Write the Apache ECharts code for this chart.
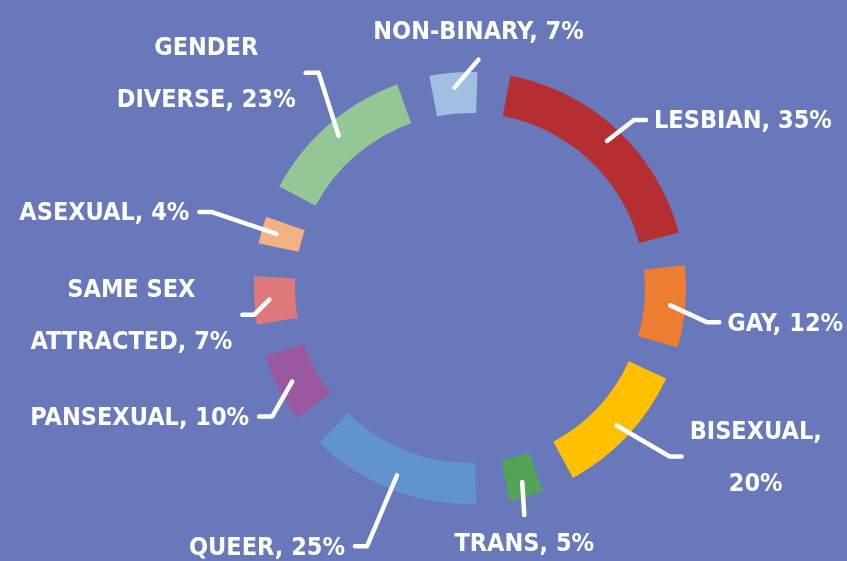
<!DOCTYPE html>
<html>
<head>
<meta charset="utf-8">
<script src="https://cdn.jsdelivr.net/npm/echarts@6/dist/echarts.min.js"></script>
<style>
  html, body { margin: 0; padding: 0; background: #6878ba; }
  #chart { width: 847px; height: 561px; }
</style>
</head>
<body>
<div id="chart"></div>
<script>
const categories = ['Lesbian', 'Gay', 'Bisexual', 'Trans', 'Queer', 'Pansexual',
  'Same sex attracted', 'Asexual', 'Gender diverse', 'Non-binary'];
const percents = [35, 12, 20, 5, 25, 10, 7, 4, 23, 7];
const colors = ['#b52e31', '#ed7d31', '#ffc000', '#52a456', '#6194cd', '#9957a0',
  '#e07a7a', '#f4b183', '#93c796', '#a2bee2'];

// leader lines: elbow offset from the start point, horizontal tail, wrap after n words
const leaders = [
  { dx: 27, dy: -21, h: 12 },
  { dx: 37, dy: 17, h: 12 },
  { dx: 53, dy: 31, h: 12, wrap: 1 },
  { dx: 2, dy: 33, h: 0 },
  { dx: -30, dy: 71, h: -12 },
  { dx: -20, dy: 35, h: -13 },
  { dx: -15, dy: 15, h: -12, wrap: 2 },
  { dx: -65, dy: -22, h: -12 },
  { dx: -20, dy: -63, h: -13, wrap: 1 },
  { dx: 24, dy: -28, h: 0 }
];

const GAP = 8.8;
const total = percents.reduce((a, b) => a + b, 0);
const degPerUnit = (360 - GAP * percents.length) / total;
// echarts cuts padAngle out of every slice, add it back so arcs stay proportional
const sliceValues = percents.map(v => v * degPerUnit + GAP);

function labelText(i) {
  const words = (categories[i] + ', ' + percents[i] + '%').toUpperCase().split(' ');
  const n = leaders[i].wrap;
  if (!n) return words.join(' ');
  return words.slice(0, n).join(' ') + '\n' + words.slice(n).join(' ');
}

const chart = echarts.init(document.getElementById('chart'));

const center = [470, 288];
const lineStartR = 201;
const startAngle = 90 - 10.8 + GAP / 2;

chart.setOption({
  backgroundColor: '#6878ba',
  animation: false,
  series: [
    {
      type: 'pie',
      silent: true,
      z: 1,
      center: center,
      radius: [175, 216],
      startAngle: startAngle,
      padAngle: GAP,
      label: { show: false },
      labelLine: { show: false },
      data: sliceValues.map((v, i) => ({
        name: categories[i],
        value: v,
        itemStyle: { color: colors[i] }
      }))
    },
    {
      // invisible copy that only carries the labels and leader lines
      type: 'pie',
      silent: true,
      z: 5,
      center: center,
      radius: [0, lineStartR],
      startAngle: startAngle,
      padAngle: GAP,
      avoidLabelOverlap: false,
      itemStyle: { color: 'rgba(0,0,0,0)' },
      label: {
        show: true,
        color: '#fff',
        fontFamily: '"DejaVu Sans Condensed", sans-serif',
        fontWeight: 'bold',
        fontSize: 25,
        lineHeight: 52,
        formatter: p => labelText(p.dataIndex)
      },
      labelLine: {
        show: true,
        lineStyle: { color: '#fff', width: 4.5, cap: 'round', join: 'round' }
      },
      labelLayout: function (params) {
        const pts = params.labelLinePoints;
        if (!pts) return {};
        const g = leaders[params.dataIndex];
        // start the leader inside the ring, on the slice's mid angle
        const vx = pts[0][0] - center[0];
        const vy = pts[0][1] - center[1];
        const len = Math.sqrt(vx * vx + vy * vy);
        const s = [center[0] + vx / len * lineStartR, center[1] + vy / len * lineStartR];
        const elbow = [s[0] + g.dx, s[1] + g.dy];
        const end = [elbow[0] + g.h, elbow[1]];
        const w = params.labelRect.width;
        let x = end[0];
        let y = end[1] + 2;
        if (g.h > 0) x = end[0] + 8 + w / 2;
        else if (g.h < 0) x = end[0] - 10 - w / 2;
        else y = end[1] + (g.dy > 0 ? 29 : -27);
        return {
          x: x,
          y: y,
          align: 'center',
          verticalAlign: 'middle',
          labelLinePoints: g.h ? [s, elbow, end] : [s, elbow, elbow]
        };
      },
      data: sliceValues.map((v, i) => ({ name: categories[i], value: v }))
    }
  ]
});
</script>
</body>
</html>
